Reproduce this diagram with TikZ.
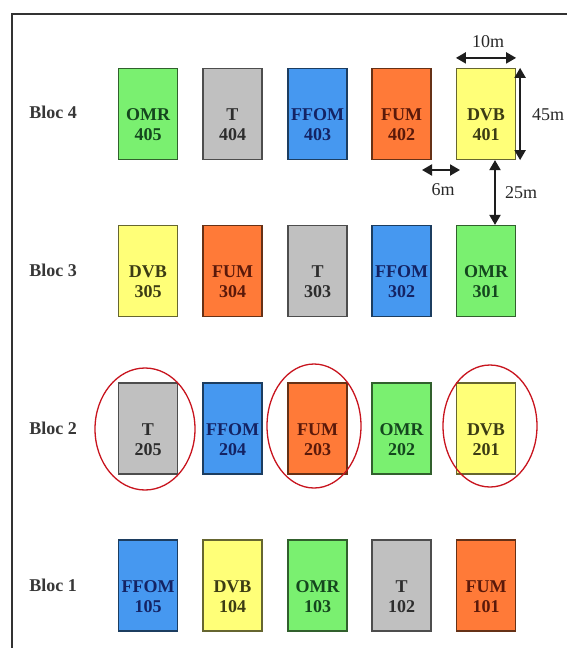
\documentclass[tikz,border=0pt]{standalone}
\usepackage{fontspec}
\setmainfont{Liberation Serif}
\usetikzlibrary{arrows.meta}
\definecolor{cOMR}{RGB}{122,240,112}
\definecolor{cT}{RGB}{192,192,192}
\definecolor{cFFOM}{RGB}{70,152,240}
\definecolor{cFUM}{RGB}{255,122,56}
\definecolor{cDVB}{RGB}{255,255,120}
\definecolor{tOMR}{RGB}{20,70,30}
\definecolor{tT}{RGB}{45,45,45}
\definecolor{tFFOM}{RGB}{20,35,100}
\definecolor{tFUM}{RGB}{90,25,10}
\definecolor{tDVB}{RGB}{60,60,20}
\definecolor{rim}{RGB}{200,20,30}
\tikzset{
  unit/.style={draw=#1!40!black, line width=1.2pt, fill=#1, minimum width=59pt, minimum height=91pt, inner sep=0pt},
  utext/.style={font=\fontsize{18}{20}\selectfont\bfseries, align=center, text=#1},
  bloclabel/.style={font=\fontsize{18}{20}\selectfont\bfseries, text={rgb,255:red,55;green,55;blue,55}},
  ring/.style={draw=rim, line width=1.3pt},
  dim/.style={{Triangle[length=10pt,width=11pt]}-{Triangle[length=10pt,width=11pt]}, line width=2pt, draw={rgb,255:red,30;green,30;blue,30}},
  dimtext/.style={font=\fontsize{18}{20}\selectfont, text={rgb,255:red,40;green,40;blue,40}},
}
\newcommand{\unitbox}[6]{%
  \node[unit=c#1] (#6) at (#4,#5) {};
  \node[utext=t#1] at (#4,#5+11) {#2\\#3};
}
\begin{document}
\begin{tikzpicture}[x=1pt,y=-1pt]
\useasboundingbox (0,0) rectangle (567,648);
\fill[white] (0,0) rectangle (567,648);
\draw[line width=2.2pt, draw={rgb,255:red,50;green,50;blue,50}] (12,648) -- (12,14) -- (567,14);
% labels
\node[bloclabel] (b4) at (53,112) {Bloc 4};
\node[bloclabel] (b3) at (53,270) {Bloc 3};
\node[bloclabel] (b2) at (53,428) {Bloc 2};
\node[bloclabel] (b1) at (53,585) {Bloc 1};
% row 4
\unitbox{OMR}{OMR}{405}{148}{114}{u405}
\unitbox{T}{T}{404}{232.5}{114}{u404}
\unitbox{FFOM}{FFOM}{403}{317.5}{114}{u403}
\unitbox{FUM}{FUM}{402}{401.5}{114}{u402}
\unitbox{DVB}{DVB}{401}{486}{114}{u401}
% row 3
\unitbox{DVB}{DVB}{305}{148}{271}{u305}
\unitbox{FUM}{FUM}{304}{232.5}{271}{u304}
\unitbox{T}{T}{303}{317.5}{271}{u303}
\unitbox{FFOM}{FFOM}{302}{401.5}{271}{u302}
\unitbox{OMR}{OMR}{301}{486}{271}{u301}
% row 2
\unitbox{T}{T}{205}{148}{428.5}{u205}
\unitbox{FFOM}{FFOM}{204}{232.5}{428.5}{u204}
\unitbox{FUM}{FUM}{203}{317.5}{428.5}{u203}
\unitbox{OMR}{OMR}{202}{401.5}{428.5}{u202}
\unitbox{DVB}{DVB}{201}{486}{428.5}{u201}
% row 1
\unitbox{FFOM}{FFOM}{105}{148}{585.5}{u105}
\unitbox{DVB}{DVB}{104}{232.5}{585.5}{u104}
\unitbox{OMR}{OMR}{103}{317.5}{585.5}{u103}
\unitbox{T}{T}{102}{401.5}{585.5}{u102}
\unitbox{FUM}{FUM}{101}{486}{585.5}{u101}
% rings
\draw[ring] (145,429) ellipse [x radius=50, y radius=61];
\draw[ring] (314,426) ellipse [x radius=47, y radius=62];
\draw[ring] (490,426) ellipse [x radius=47, y radius=61];
% dimensions
\coordinate (w1) at ([yshift=10]u401.north west);
\coordinate (w2) at ([yshift=10]u401.north east);
\draw[dim] (w1) -- (w2);
\node[dimtext] (t10) at (488,42) {10m};
\coordinate (h1) at ([xshift=4]u401.north east);
\coordinate (h2) at ([xshift=4]u401.south east);
\draw[dim] (h1) -- (h2);
\node[dimtext] (t45) at (548,115) {45m};
\coordinate (s1) at (422,170);
\coordinate (s2) at (460,170);
\draw[dim] (s1) -- (s2);
\node[dimtext] (t6) at (443,190) {6m};
\coordinate (v1) at ([xshift=9]u401.south);
\coordinate (v2) at ([xshift=9]u301.north);
\draw[dim] (v1) -- (v2);
\node[dimtext] (t25) at (521,193) {25m};
\end{tikzpicture}
\end{document}
